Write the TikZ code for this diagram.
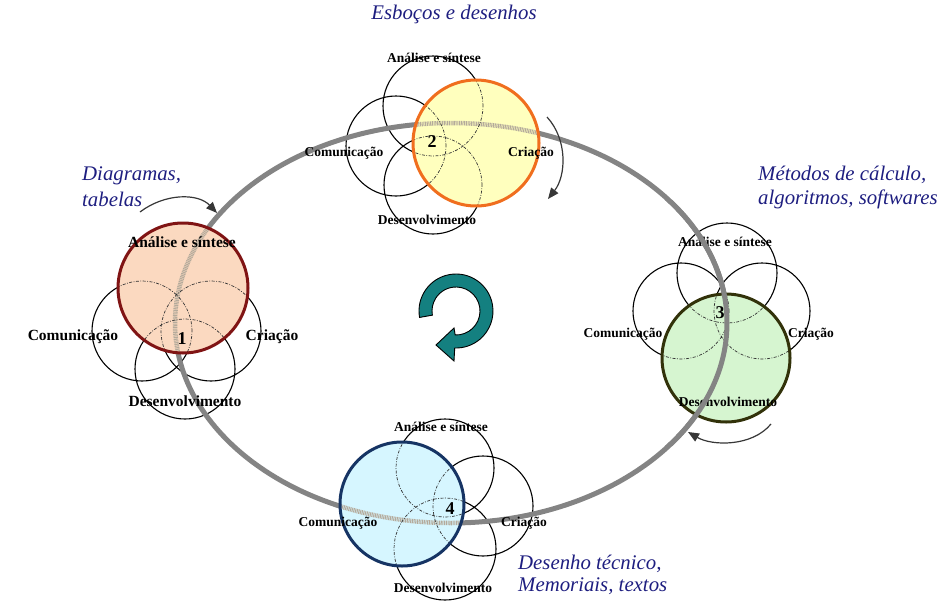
\documentclass[tikz,border=0pt]{standalone}
\usepackage{fontspec}
\setmainfont{Liberation Serif}
\usetikzlibrary{arrows.meta}
\definecolor{ringgray}{RGB}{132,132,132}
\definecolor{ringlight}{RGB}{180,170,155}
\definecolor{notecol}{RGB}{30,30,128}
\definecolor{arrowgray}{RGB}{55,55,55}
\definecolor{tealarrow}{RGB}{20,128,128}
\definecolor{fillA}{RGB}{251,217,192}
\definecolor{drawA}{RGB}{128,20,20}
\definecolor{fillB}{RGB}{255,255,190}
\definecolor{drawB}{RGB}{240,110,30}
\definecolor{fillC}{RGB}{214,245,208}
\definecolor{drawC}{RGB}{50,50,10}
\definecolor{fillD}{RGB}{214,246,255}
\definecolor{drawD}{RGB}{22,52,100}
\tikzset{
  smallc/.style={draw=black, line width=1.1pt},
  innerc/.style={draw=black!80, line width=0.7pt, dash pattern=on 3pt off 1.5pt on 0.8pt off 1.5pt},
  ringline/.style={draw=ringgray, line width=5pt},
  ringin/.style={draw=ringlight, line width=4.5pt, dash pattern=on 1pt off 0.7pt},
  bigc/.style={line width=3pt},
  lblA/.style={font=\bfseries\fontsize{15.5}{17}\selectfont, inner sep=0pt},
  lbl/.style={font=\bfseries\fontsize{13.5}{15}\selectfont, inner sep=0pt},
  num/.style={font=\bfseries\fontsize{18}{20}\selectfont, inner sep=0pt},
  note/.style={font=\itshape\fontsize{20.8}{23}\selectfont, text=notecol, inner sep=0pt, anchor=west},
  curv/.style={draw=arrowgray, line width=1.2pt, -{Triangle[length=11pt,width=9pt]}},
}
\begin{document}
\begin{tikzpicture}[x=1pt,y=-1pt]
\useasboundingbox (0,0) rectangle (948,608);
% centres
\coordinate (E) at (451,323);
\coordinate (B1) at (183,288); \coordinate (L1) at (142,331); \coordinate (R1) at (211,331); \coordinate (D1) at (185,369);
\coordinate (B2) at (476,143); \coordinate (T2) at (433,106); \coordinate (L2) at (396,146); \coordinate (D2) at (433,185);
\coordinate (B3) at (726,358); \coordinate (T3) at (727,273); \coordinate (L3) at (681,311); \coordinate (R3) at (762,311);
\coordinate (B4) at (402,504); \coordinate (T4) at (445,468); \coordinate (R4) at (483,506); \coordinate (D4) at (445,549);

% small circles
\draw[smallc] (L1) circle (50pt) (R1) circle (50pt) (D1) circle (50pt);
\draw[smallc] (T2) circle (50pt) (L2) circle (50pt) (D2) circle (49pt);
\draw[smallc] (T3) circle (50pt) (L3) circle (48pt) (R3) circle (48pt);
\draw[smallc] (T4) circle (49pt) (R4) circle (50pt) (D4) circle (51pt);

% main cycle
\draw[ringline] (E) ellipse (276pt and 200pt);

% cluster 1
\fill[fillA] (B1) circle (65pt);
\begin{scope}
  \clip (B1) circle (65pt);
  \draw[ringin] (E) ellipse (276pt and 200pt);
  \draw[innerc] (L1) circle (50pt) (R1) circle (50pt) (D1) circle (50pt);
\end{scope}
\draw[bigc, draw=drawA] (B1) circle (65pt);

% cluster 2
\fill[fillB] (B2) circle (63pt);
\begin{scope}
  \clip (B2) circle (63pt);
  \draw[ringin] (E) ellipse (276pt and 200pt);
  \draw[innerc] (T2) circle (50pt) (L2) circle (50pt) (D2) circle (49pt);
\end{scope}
\draw[bigc, draw=drawB] (B2) circle (63pt);

% cluster 4
\fill[fillD] (B4) circle (62pt);
\begin{scope}
  \clip (B4) circle (62pt);
  \draw[ringin] (E) ellipse (276pt and 200pt);
  \draw[innerc] (T4) circle (49pt) (R4) circle (50pt) (D4) circle (51pt);
\end{scope}
\draw[bigc, draw=drawD] (B4) circle (62pt);

% cluster 3
\fill[fillC] (B3) circle (64pt);
\begin{scope}
  \clip (B3) circle (64pt);
  \draw[innerc] (T3) circle (50pt) (L3) circle (48pt) (R3) circle (48pt);
\end{scope}
\draw[bigc, draw=drawC] (B3) circle (64pt);

% labels
\node[lblA] (a1) at (182,242) {Análise e síntese};
\node[lblA] (c1) at (73,337) {Comunicação};
\node[lblA] (r1) at (272,337) {Criação};
\node[lblA] (d1) at (185,401) {Desenvolvimento};
\node[num] (n1) at (182,339) {1};

\node[lbl] (a2) at (434,58) {Análise e síntese};
\node[lbl] (c2) at (344,153) {Comunicação};
\node[lbl] (r2) at (531,153) {Criação};
\node[lbl] (d2) at (427,220) {Desenvolvimento};
\node[num] (n2) at (432,142) {2};

\node[lbl] (a3) at (725,242) {Análise e síntese};
\node[lbl] (c3) at (623,334) {Comunicação};
\node[lbl] (r3) at (811,334) {Criação};
\node[lbl] (d3) at (728,402) {Desenvolvimento};
\node[num] (n3) at (720,313) {3};

\node[lbl] (a4) at (441,427) {Análise e síntese};
\node[lbl] (c4) at (338,523) {Comunicação};
\node[lbl] (r4) at (524,523) {Criação};
\node[lbl] (d4) at (443,588) {Desenvolvimento};
\node[num] (n4) at (450,509) {4};

% ring over cluster 3
\begin{scope}
  \clip (630,200) rectangle (800,445);
  \draw[ringline] (E) ellipse (276pt and 200pt);
\end{scope}

% notes
\node[note, anchor=center] (t2) at (454,14) {Esboços e desenhos};
\node[note] (t1a) at (82,176) {Diagramas,};
\node[note] (t1b) at (82,199) {tabelas};
\node[note] (t3a) at (758,175) {Métodos de cálculo,};
\node[note] (t3b) at (758,199) {algoritmos, softwares};
\node[note] (t4a) at (518,564) {Desenho técnico,};
\node[note] (t4b) at (518,586) {Memoriais, textos};

% small curved arrows
\coordinate (a1s) at (140,212); \coordinate (a1e) at (217,213);
\draw[curv] (a1s) .. controls (165,193) and (198,193) .. (a1e);
\coordinate (a2s) at (547,117); \coordinate (a2e) at (548,199);
\draw[curv] (a2s) .. controls (568,140) and (566,176) .. (a2e);
\coordinate (a3s) at (771,424); \coordinate (a3e) at (688,432);
\draw[curv] (a3s) .. controls (752,447) and (712,446) .. (a3e);

% central teal arrow
\begin{scope}[shift={(456,311)}]
  \filldraw[fill=tealarrow, draw=black, line width=0.9pt]
    (190:37pt) arc[start angle=190, end angle=-92, radius=37pt]
    -- (-2pt,-50pt) -- (-20pt,-34pt) -- (-2pt,-17pt)
    -- (-92:24pt) arc[start angle=-92, end angle=190, radius=24pt] -- cycle;
\end{scope}
\end{tikzpicture}
\end{document}
